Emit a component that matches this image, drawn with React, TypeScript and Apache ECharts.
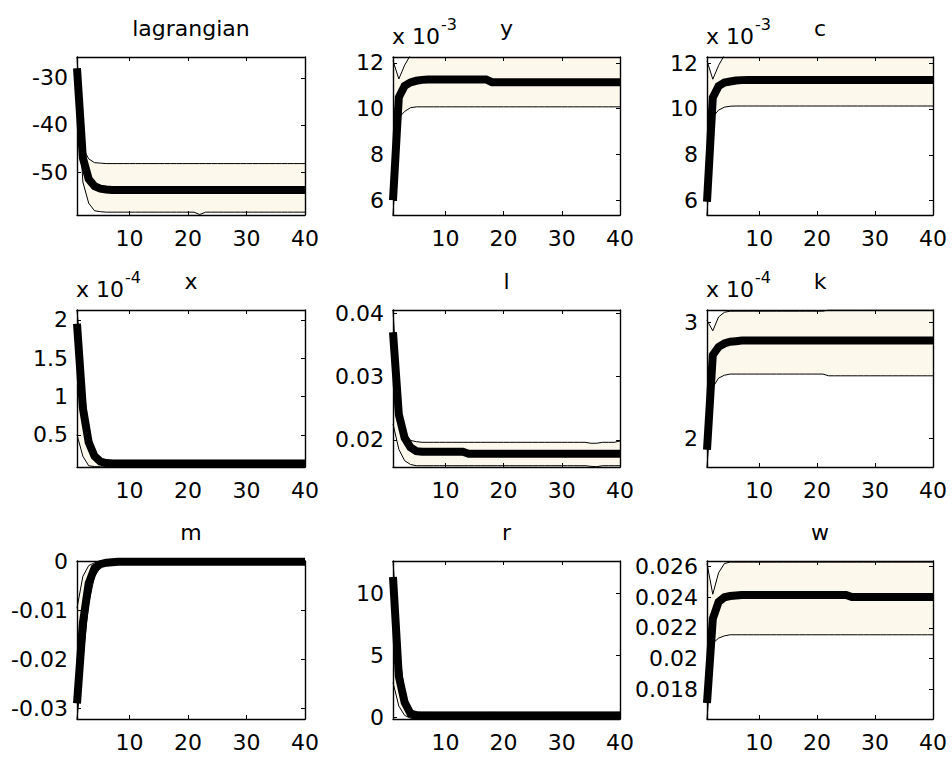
import React, { useEffect, useRef } from 'react';
import * as echarts from 'echarts';

// ---------- data ----------
const periods = [
  1, 2, 3, 4, 5, 6, 7, 8, 9, 10,
  11, 12, 13, 14, 15, 16, 17, 18, 19, 20,
  21, 22, 23, 24, 25, 26, 27, 28, 29, 30,
  31, 32, 33, 34, 35, 36, 37, 38, 39, 40,
];

const panelTitles = ['lagrangian', 'y', 'c', 'x', 'l', 'k', 'm', 'r', 'w'];
const panelExponents = ['', '-3', '-3', '-4', '', '-4', '', '', ''];
const xTickValues = [10, 20, 30, 40];
const yTickValues = [
  [-50, -40, -30],
  [6, 8, 10, 12],
  [6, 8, 10, 12],
  [0.5, 1, 1.5, 2],
  [0.02, 0.03, 0.04],
  [2, 3],
  [-0.03, -0.02, -0.01, 0],
  [0, 5, 10],
  [0.018, 0.02, 0.022, 0.024, 0.026],
];
const yMins = [-59.1, 5.35, 5.37, 0.079, 0.0157, 1.75, -0.0322, -0.14, 0.01605];
const yMaxs = [-25.6, 12.26, 12.27, 2.13, 0.0405, 3.11, 0.00015, 12.58, 0.02637];

// lagrangian
const lagMean = [
  -28.0, -47.0, -51.5, -53.0, -53.5, -53.7, -53.8, -53.8, -53.8, -53.8,
  -53.8, -53.8, -53.8, -53.8, -53.8, -53.8, -53.8, -53.8, -53.8, -53.8,
  -53.8, -53.8, -53.8, -53.8, -53.8, -53.8, -53.8, -53.8, -53.8, -53.8,
  -53.8, -53.8, -53.8, -53.8, -53.8, -53.8, -53.8, -53.8, -53.8, -53.8,
];
const lagUpper = [
  -25.7, -44.9, -47.2, -48.0, -48.1, -48.2, -48.2, -48.2, -48.2, -48.2,
  -48.2, -48.2, -48.2, -48.2, -48.2, -48.2, -48.2, -48.2, -48.2, -48.2,
  -48.2, -48.2, -48.2, -48.2, -48.2, -48.2, -48.2, -48.2, -48.2, -48.2,
  -48.2, -48.2, -48.2, -48.2, -48.2, -48.2, -48.2, -48.2, -48.2, -48.2,
];
const lagLower = [
  -31.0, -52.1, -56.6, -58.2, -58.4, -58.5, -58.5, -58.5, -58.5, -58.5,
  -58.5, -58.5, -58.5, -58.5, -58.5, -58.5, -58.5, -58.5, -58.5, -58.5,
  -58.5, -59.0, -58.5, -58.5, -58.5, -58.5, -58.5, -58.5, -58.5, -58.5,
  -58.5, -58.5, -58.5, -58.5, -58.5, -58.5, -58.5, -58.5, -58.5, -58.5,
];

// y (x 10^-3)
const yMean = [
  6.0, 10.5, 11.0, 11.15, 11.22, 11.26, 11.28, 11.28, 11.28, 11.28,
  11.28, 11.28, 11.28, 11.28, 11.28, 11.28, 11.28, 11.16, 11.16, 11.16,
  11.16, 11.16, 11.16, 11.16, 11.16, 11.16, 11.16, 11.16, 11.16, 11.16,
  11.16, 11.16, 11.16, 11.16, 11.16, 11.16, 11.16, 11.16, 11.16, 11.16,
];
const yUpper = [
  12.1, 11.3, 11.9, 12.35, 12.45, 12.5, 12.5, 12.5, 12.5, 12.5,
  12.5, 12.5, 12.5, 12.5, 12.5, 12.5, 12.5, 12.5, 12.5, 12.5,
  12.5, 12.5, 12.5, 12.5, 12.5, 12.5, 12.5, 12.5, 12.5, 12.5,
  12.5, 12.5, 12.5, 12.5, 12.5, 12.5, 12.5, 12.5, 12.5, 12.5,
];
const yLower = [
  5.35, 9.6, 9.88, 10.04, 10.08, 10.08, 10.08, 10.08, 10.08, 10.08,
  10.08, 10.08, 10.08, 10.08, 10.08, 10.08, 10.08, 10.08, 10.08, 10.08,
  10.08, 10.08, 10.08, 10.08, 10.08, 10.08, 10.08, 10.08, 10.08, 10.08,
  10.08, 10.08, 10.08, 10.08, 10.08, 10.08, 10.08, 10.08, 10.08, 10.08,
];

// c (x 10^-3)
const cMean = [
  5.95, 10.5, 11.0, 11.15, 11.2, 11.24, 11.26, 11.27, 11.27, 11.27,
  11.27, 11.27, 11.27, 11.27, 11.27, 11.27, 11.27, 11.27, 11.27, 11.27,
  11.27, 11.27, 11.27, 11.27, 11.27, 11.27, 11.27, 11.27, 11.27, 11.27,
  11.27, 11.27, 11.27, 11.27, 11.27, 11.27, 11.27, 11.27, 11.27, 11.27,
];
const cUpper = [
  12.1, 11.3, 11.9, 12.35, 12.45, 12.5, 12.5, 12.5, 12.5, 12.5,
  12.5, 12.5, 12.5, 12.5, 12.5, 12.5, 12.5, 12.5, 12.5, 12.5,
  12.5, 12.5, 12.5, 12.5, 12.5, 12.5, 12.5, 12.5, 12.5, 12.5,
  12.5, 12.5, 12.5, 12.5, 12.5, 12.5, 12.5, 12.5, 12.5, 12.5,
];
const cLower = [
  5.37, 9.65, 9.95, 10.08, 10.12, 10.13, 10.13, 10.13, 10.13, 10.13,
  10.13, 10.13, 10.13, 10.13, 10.13, 10.13, 10.13, 10.13, 10.13, 10.13,
  10.13, 10.13, 10.13, 10.13, 10.13, 10.13, 10.13, 10.13, 10.13, 10.13,
  10.13, 10.13, 10.13, 10.13, 10.13, 10.13, 10.13, 10.13, 10.13, 10.13,
];

// x (x 10^-4)
const xMean = [
  1.95, 0.85, 0.4, 0.22, 0.15, 0.13, 0.125, 0.125, 0.125, 0.125,
  0.125, 0.125, 0.125, 0.125, 0.125, 0.125, 0.125, 0.125, 0.125, 0.125,
  0.125, 0.125, 0.125, 0.125, 0.125, 0.125, 0.125, 0.125, 0.125, 0.125,
  0.125, 0.125, 0.125, 0.125, 0.125, 0.125, 0.125, 0.125, 0.125, 0.125,
];
const xUpper = [
  2.13, 1.25, 0.55, 0.28, 0.19, 0.17, 0.165, 0.165, 0.165, 0.165,
  0.165, 0.165, 0.165, 0.165, 0.165, 0.165, 0.165, 0.165, 0.165, 0.165,
  0.165, 0.165, 0.165, 0.165, 0.165, 0.165, 0.165, 0.165, 0.165, 0.165,
  0.165, 0.165, 0.165, 0.165, 0.165, 0.165, 0.165, 0.165, 0.165, 0.165,
];
const xLower = [
  0.5, 0.22, 0.095, 0.085, 0.082, 0.082, 0.082, 0.082, 0.082, 0.082,
  0.082, 0.082, 0.082, 0.082, 0.082, 0.082, 0.082, 0.082, 0.082, 0.082,
  0.082, 0.082, 0.082, 0.082, 0.082, 0.082, 0.082, 0.082, 0.082, 0.082,
  0.082, 0.082, 0.082, 0.082, 0.082, 0.082, 0.082, 0.082, 0.082, 0.082,
];

// l
const lMean = [
  0.037, 0.024, 0.0203, 0.0188, 0.0182, 0.0181, 0.0181, 0.0181, 0.0181, 0.0181,
  0.0181, 0.0181, 0.0181, 0.0178, 0.0178, 0.0178, 0.0178, 0.0178, 0.0178, 0.0178,
  0.0178, 0.0178, 0.0178, 0.0178, 0.0178, 0.0178, 0.0178, 0.0178, 0.0178, 0.0178,
  0.0178, 0.0178, 0.0178, 0.0178, 0.0178, 0.0178, 0.0178, 0.0178, 0.0178, 0.0178,
];
const lUpper = [
  0.0405, 0.0245, 0.021, 0.0199, 0.0197, 0.0196, 0.0196, 0.0196, 0.0196, 0.0196,
  0.0196, 0.0196, 0.0196, 0.0196, 0.0196, 0.0196, 0.0196, 0.0196, 0.0196, 0.0196,
  0.0196, 0.0196, 0.0196, 0.0196, 0.0196, 0.0196, 0.0196, 0.0196, 0.0196, 0.0196,
  0.0196, 0.0196, 0.0196, 0.0196, 0.01945, 0.01945, 0.0196, 0.0196, 0.0196, 0.0198,
];
const lLower = [
  0.0225, 0.0185, 0.0167, 0.0161, 0.0159, 0.0159, 0.0159, 0.0159, 0.0159, 0.0159,
  0.0159, 0.0159, 0.0159, 0.0159, 0.0159, 0.0159, 0.0159, 0.0159, 0.0159, 0.0159,
  0.0159, 0.0159, 0.0159, 0.0159, 0.0159, 0.0159, 0.0159, 0.0159, 0.0159, 0.0159,
  0.0159, 0.0159, 0.0159, 0.0159, 0.0158, 0.01575, 0.0159, 0.0159, 0.0159, 0.0159,
];

// k (x 10^-4)
const kMean = [
  1.9, 2.72, 2.79, 2.82, 2.835, 2.84, 2.845, 2.845, 2.845, 2.845,
  2.845, 2.845, 2.845, 2.845, 2.845, 2.845, 2.845, 2.845, 2.845, 2.845,
  2.845, 2.845, 2.845, 2.845, 2.845, 2.845, 2.845, 2.845, 2.845, 2.845,
  2.845, 2.845, 2.845, 2.845, 2.845, 2.845, 2.845, 2.845, 2.845, 2.845,
];
const kUpper = [
  3.02, 2.93, 3.05, 3.09, 3.1, 3.1, 3.1, 3.1, 3.1, 3.1,
  3.1, 3.1, 3.1, 3.1, 3.1, 3.1, 3.1, 3.1, 3.1, 3.1,
  3.1, 3.11, 3.11, 3.11, 3.11, 3.11, 3.11, 3.11, 3.11, 3.11,
  3.11, 3.11, 3.11, 3.11, 3.11, 3.11, 3.11, 3.11, 3.11, 3.11,
];
const kLower = [
  1.75, 2.44, 2.52, 2.545, 2.555, 2.555, 2.555, 2.555, 2.555, 2.555,
  2.555, 2.555, 2.555, 2.555, 2.555, 2.555, 2.555, 2.555, 2.555, 2.555,
  2.555, 2.54, 2.54, 2.54, 2.54, 2.54, 2.54, 2.54, 2.54, 2.54,
  2.54, 2.54, 2.54, 2.54, 2.54, 2.54, 2.54, 2.54, 2.54, 2.54,
];

// m
const mMean = [
  -0.029, -0.0126, -0.0044, -0.0013, -0.0005, -0.0002, -0.0001, 0, 0, 0,
  0, 0, 0, 0, 0, 0, 0, 0, 0, 0,
  0, 0, 0, 0, 0, 0, 0, 0, 0, 0,
  0, 0, 0, 0, 0, 0, 0, 0, 0, 0,
];
const mUpper = [
  -0.0095, -0.003, -0.0008, -0.0002, 0.0001, 0.00015, 0.00015, 0.00015, 0.00015, 0.00015,
  0.00015, 0.00015, 0.00015, 0.00015, 0.00015, 0.00015, 0.00015, 0.00015, 0.00015, 0.00015,
  0.00015, 0.00015, 0.00015, 0.00015, 0.00015, 0.00015, 0.00015, 0.00015, 0.00015, 0.00015,
  0.00015, 0.00015, 0.00015, 0.00015, 0.00015, 0.00015, 0.00015, 0.00015, 0.00015, 0.00015,
];
const mLower = [
  -0.0322, -0.02, -0.0085, -0.003, -0.0012, -0.0005, -0.0003, -0.0002, -0.0002, -0.0002,
  -0.0002, -0.0002, -0.0002, -0.0002, -0.0002, -0.0002, -0.0002, -0.0002, -0.0002, -0.0002,
  -0.0002, -0.0002, -0.0002, -0.0002, -0.0002, -0.0002, -0.0002, -0.0002, -0.0002, -0.0002,
  -0.0002, -0.0002, -0.0002, -0.0002, -0.0002, -0.0002, -0.0002, -0.0002, -0.0002, -0.0002,
];

// r
const rMean = [
  11.3, 3.3, 1.2, 0.3, 0.17, 0.15, 0.15, 0.15, 0.15, 0.15,
  0.15, 0.15, 0.15, 0.15, 0.15, 0.15, 0.15, 0.15, 0.15, 0.15,
  0.15, 0.15, 0.15, 0.15, 0.15, 0.15, 0.15, 0.15, 0.15, 0.15,
  0.15, 0.15, 0.15, 0.15, 0.15, 0.15, 0.15, 0.15, 0.15, 0.15,
];
const rUpper = [
  12.58, 5.5, 2.0, 0.6, 0.42, 0.4, 0.4, 0.4, 0.4, 0.4,
  0.4, 0.4, 0.4, 0.4, 0.4, 0.4, 0.4, 0.4, 0.4, 0.4,
  0.4, 0.4, 0.4, 0.4, 0.4, 0.4, 0.4, 0.4, 0.4, 0.4,
  0.4, 0.4, 0.4, 0.4, 0.4, 0.4, 0.4, 0.4, 0.4, 0.4,
];
const rLower = [
  2.8, 0.9, 0.15, -0.08, -0.12, -0.13, -0.13, -0.13, -0.13, -0.13,
  -0.13, -0.13, -0.13, -0.13, -0.13, -0.13, -0.13, -0.13, -0.13, -0.13,
  -0.13, -0.13, -0.13, -0.13, -0.13, -0.13, -0.13, -0.13, -0.13, -0.13,
  -0.13, -0.13, -0.13, -0.13, -0.13, -0.13, -0.13, -0.13, -0.13, -0.13,
];

// w
const wMean = [
  0.0171, 0.0226, 0.0237, 0.024, 0.02408, 0.02412, 0.02415, 0.02415, 0.02415, 0.02415,
  0.02415, 0.02415, 0.02415, 0.02415, 0.02415, 0.02415, 0.02415, 0.02415, 0.02415, 0.02415,
  0.02415, 0.02415, 0.02415, 0.02415, 0.02415, 0.02402, 0.02402, 0.02402, 0.02402, 0.02402,
  0.02402, 0.02402, 0.02402, 0.02402, 0.02402, 0.02402, 0.02402, 0.02402, 0.02402, 0.02402,
];
const wUpper = [
  0.0262, 0.0242, 0.0256, 0.0262, 0.0263, 0.0263, 0.0263, 0.0263, 0.0263, 0.0263,
  0.0263, 0.0263, 0.0263, 0.0263, 0.0263, 0.0263, 0.0263, 0.0263, 0.0263, 0.0263,
  0.0263, 0.0263, 0.0263, 0.0263, 0.0263, 0.0263, 0.0263, 0.0263, 0.0263, 0.0263,
  0.0263, 0.0263, 0.0263, 0.0263, 0.0263, 0.0263, 0.0263, 0.0263, 0.0263, 0.0263,
];
const wLower = [
  0.01605, 0.021, 0.02133, 0.02148, 0.02155, 0.02155, 0.02155, 0.02155, 0.02155, 0.02155,
  0.02155, 0.02155, 0.02155, 0.02155, 0.02155, 0.02155, 0.02155, 0.02155, 0.02155, 0.02155,
  0.02155, 0.02155, 0.02155, 0.02155, 0.02155, 0.02155, 0.02155, 0.02155, 0.02155, 0.02155,
  0.02155, 0.02155, 0.02155, 0.02155, 0.02155, 0.02155, 0.02155, 0.02155, 0.02155, 0.02155,
];

const meanSeries = [lagMean, yMean, cMean, xMean, lMean, kMean, mMean, rMean, wMean];
const upperSeries = [lagUpper, yUpper, cUpper, xUpper, lUpper, kUpper, mUpper, rUpper, wUpper];
const lowerSeries = [lagLower, yLower, cLower, xLower, lLower, kLower, mLower, rLower, wLower];

// ---------- layout / style ----------
const COL_LEFT = [77, 393, 707];
const COL_WIDTH = [228, 227, 226];
const ROW_TOP = [57, 310, 561];
const ROW_HEIGHT = [158, 157, 158];
const FONT = "'DejaVu Sans', 'Liberation Sans', Arial, sans-serif";
const FONT_SIZE = 22;
const BAND_COLOR = '#FDF8EC';

const fmt = (v: number) => String(Number(v.toPrecision(6)));

export default function App() {
  const ref = useRef<HTMLDivElement>(null);

  useEffect(() => {
    if (!ref.current) return;
    const chart = echarts.init(ref.current, null, { renderer: 'svg' });
    const axisLine = { show: true, onZero: false, lineStyle: { color: '#000', width: 1.4 } };
    const tickStyle = { color: '#000', width: 1 };
    const grids: any[] = [];
    const xAxes: any[] = [];
    const yAxes: any[] = [];
    const series: any[] = [];
    const graphics: any[] = [];

    panelTitles.forEach((title, i) => {
      const col = i % 3;
      const row = Math.floor(i / 3);
      const left = COL_LEFT[col];
      const top = ROW_TOP[row];
      grids.push({
        left, top, width: COL_WIDTH[col], height: ROW_HEIGHT[row],
        show: false, containLabel: false, outerBoundsMode: 'none',
      });
      const xb = xAxes.length;
      xAxes.push({
        type: 'value', gridIndex: i, min: 1, max: 40, position: 'bottom', z: 10,
        axisLine,
        axisTick: { show: true, inside: true, length: 4, customValues: xTickValues, lineStyle: tickStyle },
        axisLabel: { show: true, customValues: xTickValues, margin: 12, fontSize: FONT_SIZE, fontFamily: FONT, color: '#000', formatter: fmt },
        splitLine: { show: false },
      });
      xAxes.push({
        type: 'value', gridIndex: i, min: 1, max: 40, position: 'top', z: 10,
        axisLine,
        axisTick: { show: true, inside: true, length: 4, customValues: xTickValues, lineStyle: tickStyle },
        axisLabel: { show: false },
        splitLine: { show: false },
      });
      const yb = yAxes.length;
      yAxes.push({
        type: 'value', gridIndex: i, min: yMins[i], max: yMaxs[i], position: 'left', z: 10,
        axisLine,
        axisTick: { show: true, inside: true, length: 4, customValues: yTickValues[i], lineStyle: tickStyle },
        axisLabel: { show: true, customValues: yTickValues[i], margin: 9, fontSize: FONT_SIZE, fontFamily: FONT, color: '#000', formatter: fmt },
        splitLine: { show: false },
      });
      yAxes.push({
        type: 'value', gridIndex: i, min: yMins[i], max: yMaxs[i], position: 'right', z: 10,
        axisLine,
        axisTick: { show: true, inside: true, length: 4, customValues: yTickValues[i], lineStyle: tickStyle },
        axisLabel: { show: false },
        splitLine: { show: false },
      });

      const lower = lowerSeries[i];
      const upper = upperSeries[i];
      const mean = meanSeries[i];
      const lowerPts = periods.map((t, k) => [t, lower[k]]);
      const upperPts = periods.map((t, k) => [t, upper[k]]);
      const meanPts = periods.map((t, k) => [t, mean[k]]);
      const common = { type: 'line', xAxisIndex: xb, yAxisIndex: yb, symbol: 'none', showSymbol: false, silent: true, clip: true, animation: false };

      // band: cream area under the upper bound, then white area under the lower bound
      series.push({ ...common, data: upperPts, lineStyle: { opacity: 0, width: 0 }, areaStyle: { color: BAND_COLOR, opacity: 1, origin: 'start' }, z: 1 });
      series.push({ ...common, data: lowerPts, lineStyle: { opacity: 0, width: 0 }, areaStyle: { color: '#ffffff', opacity: 1, origin: 'start' }, z: 1 });
      series.push({ ...common, data: lowerPts, lineStyle: { color: '#000', width: 1 }, z: 2 });
      series.push({ ...common, data: upperPts, lineStyle: { color: '#000', width: 1 }, z: 2 });
      series.push({ ...common, data: meanPts, lineStyle: { color: '#000', width: 8, cap: 'butt', join: 'miter' }, z: 3 });

      const cx = left + COL_WIDTH[col] / 2;
      graphics.push({
        type: 'text', x: cx, y: top - 29,
        style: { text: title, fontSize: FONT_SIZE, fontFamily: FONT, fill: '#000', align: 'center', verticalAlign: 'middle' },
      });
      if (panelExponents[i]) {
        graphics.push({
          type: 'text', x: left - 1, y: top - 21,
          style: { text: 'x 10', fontSize: FONT_SIZE, fontFamily: FONT, fill: '#000', align: 'left', verticalAlign: 'middle' },
        });
        graphics.push({
          type: 'text', x: left + 48, y: top - 33,
          style: { text: panelExponents[i], fontSize: 16, fontFamily: FONT, fill: '#000', align: 'left', verticalAlign: 'middle' },
        });
      }
    });

    chart.setOption({
      animation: false,
      backgroundColor: '#fff',
      grid: grids,
      xAxis: xAxes,
      yAxis: yAxes,
      series,
      graphic: { elements: graphics },
    });

    return () => chart.dispose();
  }, []);

  return (
    <div
      ref={ref}
      style={{ position: 'absolute', left: 0, top: 0, width: 952, height: 761, background: '#fff' }}
    />
  );
}
